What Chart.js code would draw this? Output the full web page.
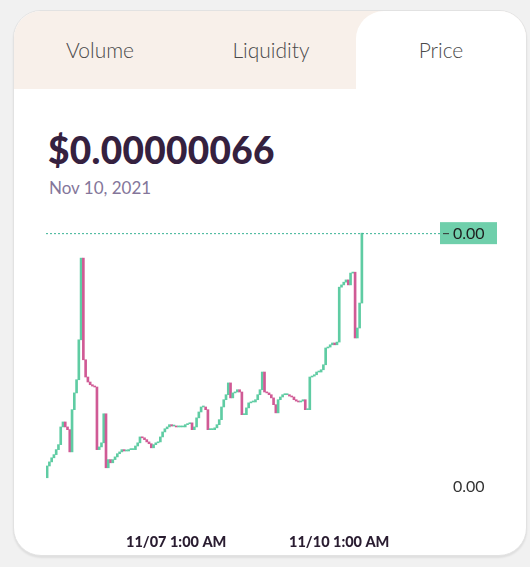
<!DOCTYPE html>
<html>
<head>
<meta charset="utf-8">
<script src="https://cdn.jsdelivr.net/npm/chart.js@4.4.0/dist/chart.umd.min.js"></script>
<style>
  html, body { margin: 0; padding: 0; }
  body { width: 530px; height: 567px; background: #f1f1f1; position: relative; overflow: hidden; font-family: Lato, sans-serif; }
  .card { position: absolute; left: 13px; top: 10px; width: 512px; height: 544px; background: #fff;
          border: 1px solid #e2e2e2; border-radius: 28px; overflow: hidden; box-shadow: 0 2px 2px rgba(0,0,0,0.08); }
  .tabs { position: absolute; left: 0; top: 0; width: 100%; height: 78px; background: #f8f0ea; }
  .tab { position: absolute; top: 0; height: 78px; line-height: 78px; text-align: center; font-size: 21px; font-weight: 300; color: #4a4a4a; }
  .tab.price { background: #fff; border-top-left-radius: 28px; }
  .title { position: absolute; left: 34px; top: 116px; font-size: 37px; font-weight: 900; color: #35213f; letter-spacing: 0.3px; }
  .date { position: absolute; left: 35px; top: 166px; font-size: 17px; color: #84769a; }
  #chart { position: absolute; left: 0; top: 0; }
</style>
</head>
<body>
<div class="card">
  <div class="tabs">
    <div class="tab" style="left:0;width:172px;">Volume</div>
    <div class="tab" style="left:172px;width:170px;">Liquidity</div>
    <div class="tab price" style="left:342px;width:170px;">Price</div>
  </div>
  <div class="title">$0.00000066</div>
  <div class="date">Nov 10, 2021</div>
</div>
<canvas id="chart" width="530" height="567"></canvas>
<script>
// hourly candles, price in units of 1e-9 USD
const unit = 1e-9;
const firstOpen = 121;
const closes = [
  147, 156, 165, 172, 183, 194, 233, 244, 233, 227,
  178, 271, 308, 337, 425, 605, 381, 343, 332, 326,
  323, 321, 183, 189, 198, 262, 143, 161, 154, 161,
  167, 174, 178, 183, 180, 180, 183, 183, 183, 191,
  198, 211, 209, 205, 200, 196, 187, 194, 198, 200,
  211, 222, 229, 233, 238, 235, 235, 233, 233, 233,
  233, 238, 240, 242, 227, 233, 253, 266, 277, 277,
  271, 227, 227, 227, 231, 238, 249, 277, 293, 304,
  330, 297, 308, 310, 315, 310, 260, 260, 275, 286,
  288, 288, 293, 304, 315, 354, 310, 308, 304, 297,
  282, 264, 293, 299, 304, 304, 304, 301, 299, 293,
  290, 288, 290, 293, 271, 271, 343, 345, 348, 354,
  354, 359, 370, 407, 409, 414, 418, 414, 420, 541,
  546, 552, 557, 546, 572, 574, 429, 451, 506, 660
];
const tickIndex = [57, 129];
const tickLabels = ['11/07 1:00 AM', '11/10 1:00 AM'];
const yTicks = [100];

const green = '#5fcca3';
const pink = '#d05a95';

let candles = [];
let prev = firstOpen;
closes.forEach((c, i) => {
  candles.push({x: i, y: [prev, c]});
  prev = c;
});

const lastPricePlugin = {
  id: 'lastPrice',
  afterDraw(chart) {
    const ctx = chart.ctx;
    const area = chart.chartArea;
    const last = closes[closes.length - 1];
    const y = chart.scales.y.getPixelForValue(last);
    ctx.save();
    ctx.strokeStyle = '#38b394';
    ctx.lineWidth = 1;
    ctx.setLineDash([2, 2]);
    ctx.beginPath();
    ctx.moveTo(area.left, y + 0.5);
    ctx.lineTo(area.right, y + 0.5);
    ctx.stroke();
    ctx.setLineDash([]);
    ctx.fillStyle = '#6fcfab';
    ctx.fillRect(area.right, y - 11, 57, 22);
    ctx.strokeStyle = '#333';
    ctx.beginPath();
    ctx.moveTo(area.right + 3, y + 0.5);
    ctx.lineTo(area.right + 9, y + 0.5);
    ctx.stroke();
    ctx.fillStyle = '#1e1e1e';
    ctx.font = '16px Lato';
    ctx.textBaseline = 'middle';
    ctx.fillText((last * unit).toFixed(2), area.right + 13, y + 1);
    ctx.restore();
  }
};

new Chart(document.getElementById('chart'), {
  type: 'bar',
  data: {
    datasets: [{
      data: candles,
      backgroundColor: ctx => {
        const v = ctx.raw.y;
        return v[1] >= v[0] ? green : pink;
      },
      barThickness: 2,
      minBarLength: 1,
      borderWidth: 0
    }]
  },
  options: {
    responsive: false,
    devicePixelRatio: 1,
    animation: false,
    layout: {padding: {left: 46, top: 215, right: 0, bottom: 7}},
    plugins: {legend: {display: false}, tooltip: {enabled: false}},
    scales: {
      x: {
        type: 'linear',
        offset: false,
        min: -0.5,
        max: 173.5,
        grid: {display: false, drawTicks: false, offset: false},
        border: {display: false},
        afterBuildTicks: scale => {
          scale.ticks = tickIndex.map(v => ({value: v}));
        },
        afterFit: scale => { scale.height = 60; },
        ticks: {
          padding: 34,
          maxRotation: 0,
          autoSkip: false,
          color: '#2a1d31',
          font: {family: 'Lato', weight: '900', size: 14.5},
          callback: (v) => tickLabels[tickIndex.indexOf(v)]
        }
      },
      y: {
        position: 'right',
        min: 72,
        max: 700,
        grid: {display: false, drawTicks: false},
        border: {display: false},
        afterBuildTicks: scale => {
          scale.ticks = yTicks.map(v => ({value: v}));
        },
        afterFit: scale => { scale.width = 90; },
        ticks: {
          padding: 13,
          color: '#333',
          font: {family: 'Lato', size: 16},
          callback: v => (v * unit).toFixed(2)
        }
      }
    }
  },
  plugins: [lastPricePlugin]
});
</script>
</body>
</html>
